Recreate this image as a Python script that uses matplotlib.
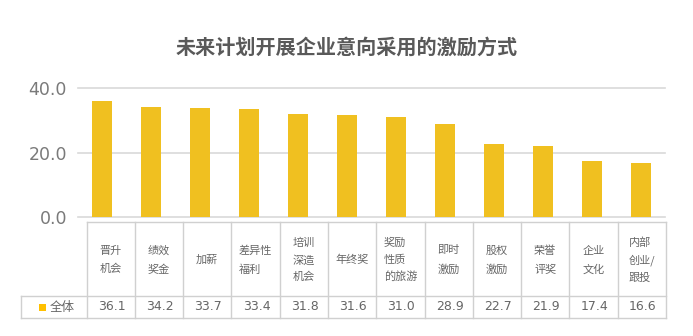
import numpy as np
import matplotlib
matplotlib.use("Agg")
import matplotlib.pyplot as plt

plt.rcParams['font.family'] = ['Noto Sans CJK SC', 'DejaVu Sans']

# ==========================================
# 데이터
# ==========================================
title = "未来计划开展企业意向采用的激励方式"
categories = ["晋升\n机会", "绩效\n奖金", "加薪", "差异性\n福利", "培训\n深造\n机会", "年终奖",
              "奖励\n性质\n的旅游", "即时\n激励", "股权\n激励", "荣誉\n评奖", "企业\n文化", "内部\n创业/\n跟投"]
values = [36.1, 34.2, 33.7, 33.4, 31.8, 31.6, 31.0, 28.9, 22.7, 21.9, 17.4, 16.6]
series_name = "全体"
y_ticks = [0, 20, 40]

bar_color = '#F0C020'
text_color = '#595959'
table_text = '#666666'
grid_color = '#d9d9d9'

W, H = 693, 336
fig = plt.figure(figsize=(W / 100, H / 100), dpi=100)

# 막대 차트 영역 (픽셀 기준 위치)
left, right, top, bottom = 78, 665, 88, 217
ax = fig.add_axes([left / W, (H - bottom) / H, (right - left) / W, (bottom - top) / H])
x = np.arange(len(values))
ax.bar(x, values, width=0.41, color=bar_color, zorder=3)
ax.set_xlim(-0.5, len(values) - 0.5)
ax.set_ylim(0, 40)
ax.set_yticks(y_ticks)
ax.set_yticklabels([f"{v:.1f}" for v in y_ticks], fontsize=12.5, color='#7a7a7a',
                   family=['DejaVu Sans'])
ax.set_xticks([])
ax.tick_params(axis='y', length=0, pad=8)
for s in ax.spines.values():
    s.set_visible(False)
for v in y_ticks:
    ax.axhline(v, color=grid_color, lw=1.2, zorder=1, clip_on=False)

fig.text(0.5, (H - 47) / H, title, ha='center', va='center', fontsize=14.5,
         fontweight='bold', color=text_color)

# 하단 데이터 테이블 (오버레이 축, 픽셀 좌표)
tab = fig.add_axes([0, 0, 1, 1])
tab.set_xlim(0, W)
tab.set_ylim(H, 0)
tab.axis('off')
tab.patch.set_alpha(0)

cols = np.linspace(86.5, 666, len(values) + 1)
t_top, t_mid, t_bot, t_left = 222, 296, 318, 21
lc = '#d0d0d0'
tab.plot([cols[0], cols[-1]], [t_top, t_top], color=lc, lw=1)
tab.plot([t_left, cols[-1]], [t_mid, t_mid], color=lc, lw=1)
tab.plot([t_left, cols[-1]], [t_bot, t_bot], color=lc, lw=1)
tab.plot([t_left, t_left], [t_mid, t_bot], color=lc, lw=1)
for cx in cols:
    tab.plot([cx, cx], [t_top, t_bot], color=lc, lw=1)

for i, (cat, val) in enumerate(zip(categories, values)):
    cx = (cols[i] + cols[i + 1]) / 2
    n = cat.count("\n") + 1
    ls = 2.0 if n == 2 else 1.75
    tab.text(cx, (t_top + t_mid) / 2 + 1, cat, ha='center', va='center', multialignment='left',
             fontsize=8, color=table_text, linespacing=ls)
    tab.text(cx + 1, (t_mid + t_bot) / 2, f"{val:.1f}", ha='center', va='center',
             fontsize=9, color=table_text, family=['DejaVu Sans'])

tab.add_patch(plt.Rectangle((39, 304), 6.5, 7, color='#FFC000', lw=0))
tab.text(50, (t_mid + t_bot) / 2, series_name, ha='left', va='center', fontsize=9, color=table_text)

fig.savefig("out.png", dpi=100)
